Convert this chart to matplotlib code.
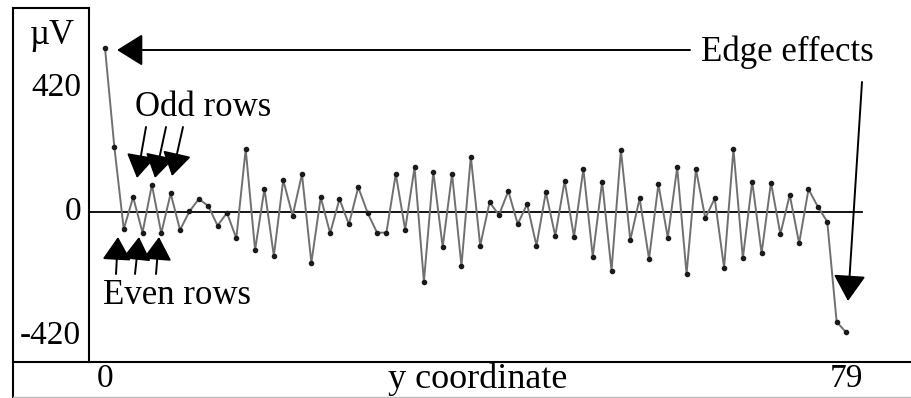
import matplotlib

matplotlib.use("Agg")
import matplotlib.pyplot as plt
import numpy as np
from matplotlib.lines import Line2D
from matplotlib.patches import FancyArrowPatch

# potential along the y coordinate (µV), rows 0..79
y_coord = np.arange(80)
potential_uv = [
    556, 219, -58, 50, -70, 92, -72, 63, -61, 2,
    44, 21, -46, -3, -89, 213, -129, 79, -149, 108,
    -12, 128, -172, 50, -72, 44, -42, 84, -3, -70,
    -70, 129, -60, 151, -236, 137, -118, 129, -183, 188,
    -114, 33, -10, 71, -41, 27, -114, 67, -81, 105,
    -84, 146, -151, 103, -199, 210, -95, 46, -159, 94,
    -87, 151, -210, 145, -21, 46, -189, 213, -157, 103,
    -140, 100, -75, 58, -106, 77, 18, -33, -372, -408,
]
ytick_vals = [420, 0, -420]
xtick_vals = [0, 79]

W, H = 912, 398
SERIF = ["Liberation Serif", "DejaVu Serif"]
FS = 24        # tick numbers
FS_WORDS = 25  # annotations


def px(x, y):
    """Top-left pixel position -> figure fraction."""
    return x / W, 1 - y / H


fig = plt.figure(figsize=(W / 100, H / 100), dpi=100)
ax = fig.add_axes([89 / W, 1 - 362 / H, (905 - 89) / W, (362 - 8) / H])
step = 9.38
uv_per_px = 3.39
ax.set_xlim((89 - 105) / step, (905 - 105) / step)
ax.set_ylim((212 - 362) * uv_per_px, (212 - 8) * uv_per_px)
ax.axis("off")

ax.plot([ax.get_xlim()[0], (862 - 105) / step], [0, 0], color="black", lw=1.3, zorder=1)
ax.plot(y_coord, potential_uv, color="#707070", lw=1.4, zorder=2)
ax.plot(y_coord, potential_uv, "o", color="#1a1a1a", ms=3, zorder=3)

# outer frame and the y-label box
frame = [
    ((13, 8), (13, 398)),
    ((13, 8), (89, 8)),
    ((89, 8), (89, 362)),
    ((13, 362), (910, 362)),
]
for (x0, y0), (x1, y1) in frame:
    a, b = px(x0, y0), px(x1, y1)
    fig.add_artist(Line2D([a[0], b[0]], [a[1], b[1]], color="black", lw=1.5))
a, b = px(13, 397), px(912, 397)
fig.add_artist(Line2D([a[0], b[0]], [a[1], b[1]], color="#bbbbbb", lw=1.0))

to_fig = fig.transFigure.inverted()

# axis labels
fig.text(*px(52, 36), "µV", ha="center", va="center", fontsize=FS_WORDS, family=SERIF)
for v in ytick_vals:
    yf = to_fig.transform(ax.transData.transform((0, v)))[1]
    fig.text(81 / W, yf, f"{v}", ha="right", va="center", fontsize=FS, family=SERIF)
for v in xtick_vals:
    xf = to_fig.transform(ax.transData.transform((v, 0)))[0]
    fig.text(xf, 1 - 379 / H, f"{v}", ha="center", va="center", fontsize=FS, family=SERIF)
fig.text(*px(478, 379), "y coordinate", ha="center", va="center", fontsize=26, family=SERIF)

head = dict(arrowstyle="-|>,head_length=0.45,head_width=0.28", mutation_scale=36,
            color="black", lw=1.4, shrinkA=0, shrinkB=0)

# edge-effect arrows
fig.text(*px(787, 52), "Edge effects", ha="center", va="center", fontsize=FS_WORDS, family=SERIF)
fig.add_artist(FancyArrowPatch(px(690, 50), px(117, 50), transform=fig.transFigure, **head))
fig.add_artist(FancyArrowPatch(px(862, 82), px(848, 301), transform=fig.transFigure, **head))

# odd / even row arrows
fig.text(*px(203, 108), "Odd rows", ha="center", va="center", fontsize=FS_WORDS, family=SERIF)
small = dict(head, mutation_scale=32)
for (x0, y0), (x1, y1) in [((146, 127), (137, 178)), ((166, 127), (155, 178)),
                           ((183, 127), (172, 176))]:
    fig.add_artist(FancyArrowPatch(px(x0, y0), px(x1, y1), transform=fig.transFigure, **small))
fig.text(*px(177, 296), "Even rows", ha="center", va="center", fontsize=FS_WORDS, family=SERIF)
for (x0, y0), (x1, y1) in [((116, 274), (118, 237)), ((135, 274), (139, 237)),
                           ((156, 274), (159, 237))]:
    fig.add_artist(FancyArrowPatch(px(x0, y0), px(x1, y1), transform=fig.transFigure, **small))

fig.savefig("out.png", dpi=100)
